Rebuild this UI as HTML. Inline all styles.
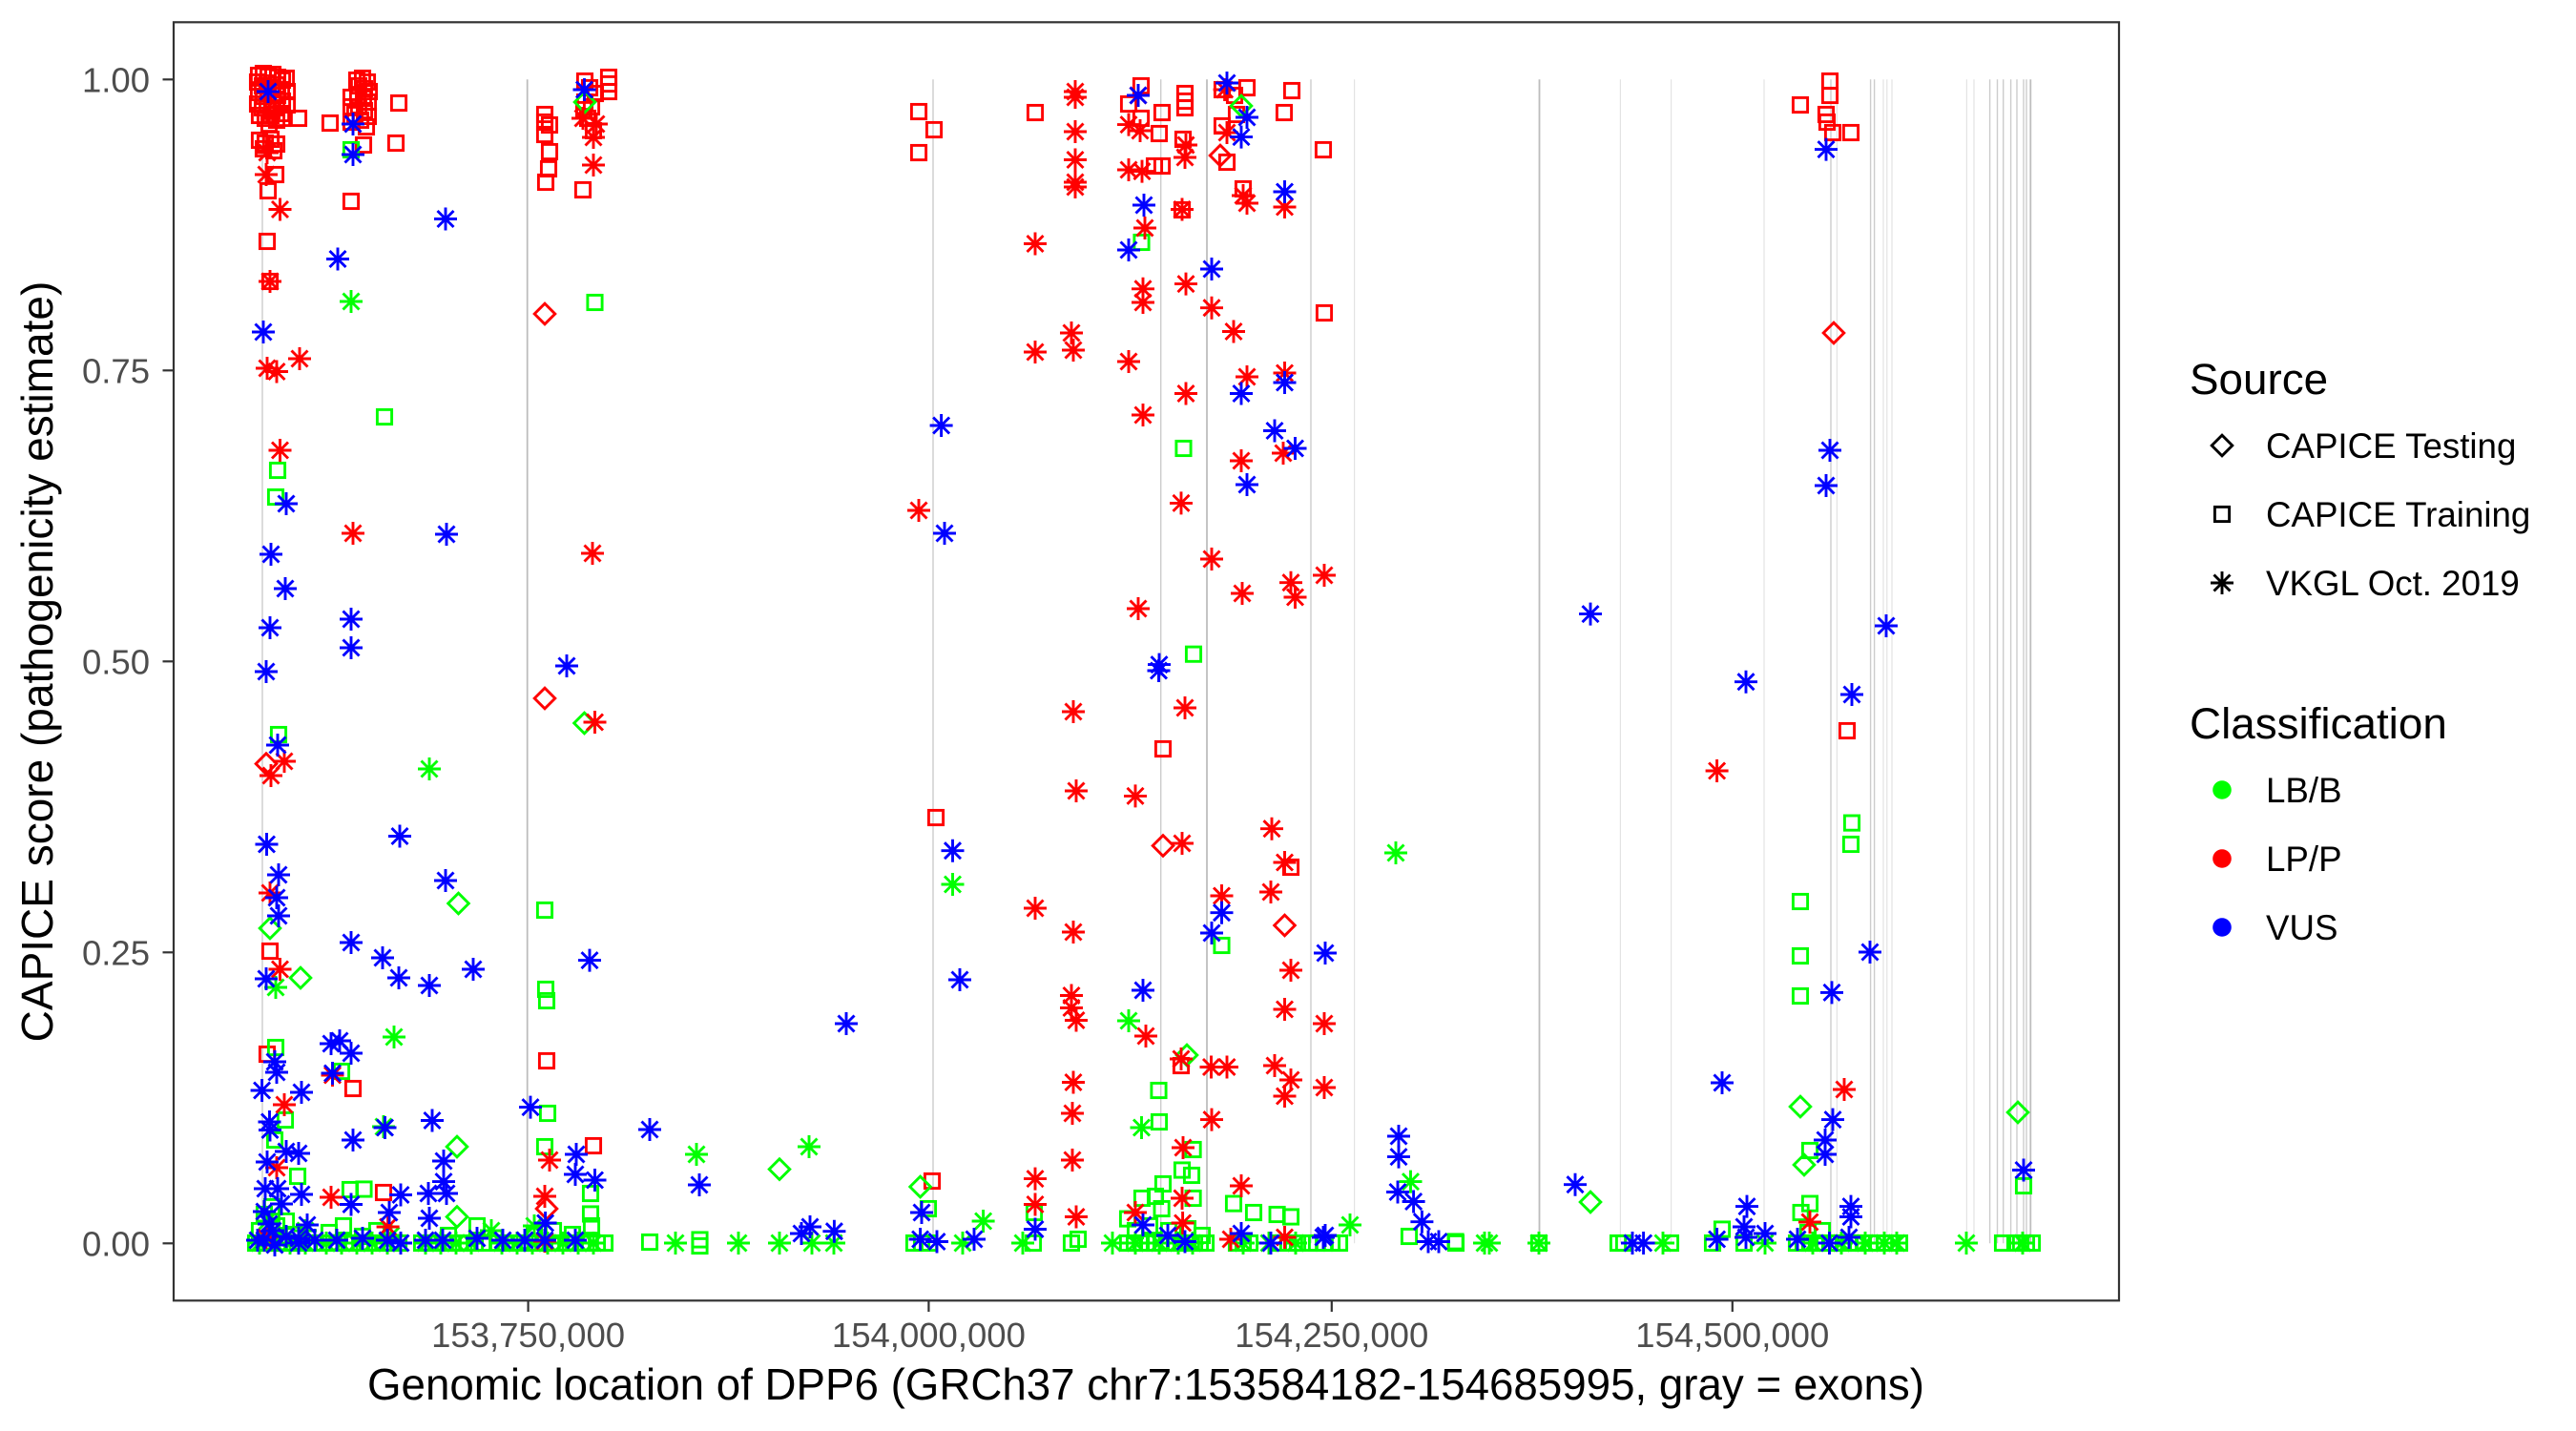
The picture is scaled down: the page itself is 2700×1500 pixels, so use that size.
<!DOCTYPE html>
<html>
<head>
<meta charset="utf-8">
<style>
html,body{margin:0;padding:0;background:#fff;}
body{width:2700px;height:1500px;overflow:hidden;}
svg{display:block;}
text{font-family:"Liberation Sans",Arial,sans-serif;}
</style>
</head>
<body>
<svg width="2700" height="1500" viewBox="0 0 2700 1500" xmlns="http://www.w3.org/2000/svg">
<defs>
<path id="a" d="M-12 0H12M0-12V12M-8.5-8.5L8.5 8.5M-8.5 8.5L8.5-8.5"/>
<rect id="s" x="-7.6" y="-7.6" width="15.2" height="15.2"/>
<path id="d" d="M0-10.8L10.8 0L0 10.8L-10.8 0Z"/>
</defs>
<rect x="0" y="0" width="2700" height="1500" fill="#fff"/>

<!-- exon lines -->
<g stroke="#bdbdbd" stroke-width="1.8">
<line x1="552.7" y1="83.3" x2="552.7" y2="1303.3"/>
<line x1="1265" y1="83.3" x2="1265" y2="1303.3"/>
<line x1="1613.5" y1="83.3" x2="1613.5" y2="1303.3"/>
<line x1="2128.3" y1="83.3" x2="2128.3" y2="1303.3"/>
</g>
<g stroke="#cccccc" stroke-width="1.4">
<line x1="275" y1="83.3" x2="275" y2="1303.3"/>
<line x1="978" y1="83.3" x2="978" y2="1303.3"/>
<line x1="1216.7" y1="83.3" x2="1216.7" y2="1303.3"/>
<line x1="1374" y1="83.3" x2="1374" y2="1303.3"/>
<line x1="1919" y1="83.3" x2="1919" y2="1303.3"/>
<line x1="1960.6" y1="83.3" x2="1960.6" y2="1303.3"/>
<line x1="1964.6" y1="83.3" x2="1964.6" y2="1303.3"/>
<line x1="2085.6" y1="83.3" x2="2085.6" y2="1303.3"/>
<line x1="2093.5" y1="83.3" x2="2093.5" y2="1303.3"/>
<line x1="2099.7" y1="83.3" x2="2099.7" y2="1303.3"/>
<line x1="2107.6" y1="83.3" x2="2107.6" y2="1303.3"/>
<line x1="2114" y1="83.3" x2="2114" y2="1303.3"/>
<line x1="2121" y1="83.3" x2="2121" y2="1303.3"/>
<line x1="2124" y1="83.3" x2="2124" y2="1303.3"/>
</g>
<g stroke="#e3e3e3" stroke-width="1.2">
<line x1="1419.6" y1="83.3" x2="1419.6" y2="1303.3"/>
<line x1="1698.4" y1="83.3" x2="1698.4" y2="1303.3"/>
<line x1="1751.6" y1="83.3" x2="1751.6" y2="1303.3"/>
<line x1="1849" y1="83.3" x2="1849" y2="1303.3"/>
<line x1="1925.4" y1="83.3" x2="1925.4" y2="1303.3"/>
<line x1="1974" y1="83.3" x2="1974" y2="1303.3"/>
<line x1="1977.8" y1="83.3" x2="1977.8" y2="1303.3"/>
<line x1="1983" y1="83.3" x2="1983" y2="1303.3"/>
<line x1="2061.4" y1="83.3" x2="2061.4" y2="1303.3"/>
<line x1="2069" y1="83.3" x2="2069" y2="1303.3"/>
</g>

<!-- RED squares -->
<g fill="none" stroke="#ff0000" stroke-width="2.9">
<use href="#s" x="271" y="79"/><use href="#s" x="276" y="77"/><use href="#s" x="281" y="80"/><use href="#s" x="286" y="78"/><use href="#s" x="291" y="81"/><use href="#s" x="296" y="84"/><use href="#s" x="300" y="82"/>
<use href="#s" x="270" y="86"/><use href="#s" x="275" y="90"/><use href="#s" x="280" y="87"/><use href="#s" x="285" y="92"/><use href="#s" x="290" y="89"/><use href="#s" x="295" y="94"/><use href="#s" x="301" y="96"/>
<use href="#s" x="271" y="97"/><use href="#s" x="276" y="101"/><use href="#s" x="281" y="98"/><use href="#s" x="286" y="104"/><use href="#s" x="291" y="100"/><use href="#s" x="296" y="106"/><use href="#s" x="301" y="110"/>
<use href="#s" x="270" y="109"/><use href="#s" x="275" y="113"/><use href="#s" x="280" y="110"/><use href="#s" x="285" y="116"/><use href="#s" x="290" y="113"/><use href="#s" x="295" y="119"/>
<use href="#s" x="272" y="121"/><use href="#s" x="278" y="124"/><use href="#s" x="284" y="121"/><use href="#s" x="290" y="126"/><use href="#s" x="296" y="124"/><use href="#s" x="282" y="130"/>
<use href="#s" x="272" y="147"/><use href="#s" x="278" y="150"/><use href="#s" x="284" y="146"/><use href="#s" x="290" y="151"/><use href="#s" x="276" y="156"/><use href="#s" x="287" y="158"/>
<use href="#s" x="313" y="124"/><use href="#s" x="346" y="129"/><use href="#s" x="289" y="183"/><use href="#s" x="281" y="200"/><use href="#s" x="280" y="253"/><use href="#s" x="283" y="295"/>
<use href="#s" x="374" y="84"/><use href="#s" x="380" y="82"/><use href="#s" x="385" y="86"/><use href="#s" x="376" y="90"/><use href="#s" x="382" y="93"/><use href="#s" x="387" y="96"/>
<use href="#s" x="375" y="100"/><use href="#s" x="381" y="103"/><use href="#s" x="386" y="107"/><use href="#s" x="368" y="102"/><use href="#s" x="368" y="112"/><use href="#s" x="376" y="112"/>
<use href="#s" x="382" y="116"/><use href="#s" x="372" y="120"/><use href="#s" x="386" y="122"/><use href="#s" x="378" y="126"/><use href="#s" x="384" y="133"/><use href="#s" x="368" y="128"/>
<use href="#s" x="418" y="108"/><use href="#s" x="415" y="150"/><use href="#s" x="381" y="152"/><use href="#s" x="368" y="211"/>
<use href="#s" x="571" y="120"/><use href="#s" x="571" y="128"/><use href="#s" x="576" y="131"/><use href="#s" x="571" y="141"/><use href="#s" x="576" y="159"/><use href="#s" x="575" y="177"/><use href="#s" x="572" y="191"/><use href="#s" x="611" y="199"/>
<use href="#s" x="613" y="85"/><use href="#s" x="638" y="81"/><use href="#s" x="638" y="88"/><use href="#s" x="638" y="96"/><use href="#s" x="613" y="107"/><use href="#s" x="616" y="124"/><use href="#s" x="622" y="137"/><use href="#s" x="618" y="92"/><use href="#s" x="624" y="98"/><use href="#s" x="612" y="115"/><use href="#s" x="620" y="112"/>
<use href="#s" x="283" y="997"/><use href="#s" x="280" y="1105"/><use href="#s" x="370" y="1141"/><use href="#s" x="573" y="1112"/><use href="#s" x="622" y="1201"/><use href="#s" x="402" y="1250"/>
<use href="#s" x="963" y="117"/><use href="#s" x="979" y="136"/><use href="#s" x="963" y="160"/><use href="#s" x="1085" y="118"/>
<use href="#s" x="1196" y="90"/><use href="#s" x="1183" y="109"/><use href="#s" x="1196" y="124"/><use href="#s" x="1218" y="118"/><use href="#s" x="1215" y="140"/><use href="#s" x="1218" y="174"/><use href="#s" x="1210" y="174"/>
<use href="#s" x="1242" y="98"/><use href="#s" x="1242" y="106"/><use href="#s" x="1242" y="113"/><use href="#s" x="1240" y="146"/>
<use href="#s" x="1307" y="92"/><use href="#s" x="1281" y="94"/><use href="#s" x="1281" y="132"/><use href="#s" x="1286" y="170"/><use href="#s" x="1294" y="100"/><use href="#s" x="1296" y="120"/>
<use href="#s" x="1354" y="95"/><use href="#s" x="1346" y="118"/><use href="#s" x="1387" y="157"/><use href="#s" x="1303" y="198"/><use href="#s" x="1239" y="220"/><use href="#s" x="1388" y="328"/>
<use href="#s" x="1219" y="785"/><use href="#s" x="981" y="857"/><use href="#s" x="1353" y="909"/><use href="#s" x="1238" y="1117"/><use href="#s" x="977" y="1238"/>
<use href="#s" x="1918" y="85"/><use href="#s" x="1918" y="100"/><use href="#s" x="1887" y="110"/><use href="#s" x="1914" y="120"/><use href="#s" x="1915" y="128"/><use href="#s" x="1921" y="139"/><use href="#s" x="1940" y="139"/>
<use href="#s" x="1936" y="766"/>
</g>

<!-- GREEN squares -->
<g fill="none" stroke="#00ff00" stroke-width="2.9">
<use href="#s" x="403" y="437"/><use href="#s" x="291" y="493"/><use href="#s" x="289" y="521"/><use href="#s" x="368" y="157"/><use href="#s" x="623.5" y="317"/>
<use href="#s" x="292" y="770"/><use href="#s" x="571" y="954"/><use href="#s" x="572" y="1037"/><use href="#s" x="573" y="1049"/>
<use href="#s" x="289" y="1098"/><use href="#s" x="299" y="1174"/><use href="#s" x="288" y="1195"/><use href="#s" x="312" y="1233"/><use href="#s" x="277" y="1273"/>
<use href="#s" x="358" y="1123"/><use href="#s" x="367" y="1247"/><use href="#s" x="381.5" y="1246.5"/><use href="#s" x="574" y="1167"/><use href="#s" x="571" y="1202"/><use href="#s" x="619" y="1251"/><use href="#s" x="619" y="1272.5"/>
<use href="#s" x="681" y="1302"/><use href="#s" x="733.5" y="1299.5"/><use href="#s" x="733.5" y="1306"/>
<use href="#s" x="1196.5" y="254"/><use href="#s" x="1240.5" y="470"/><use href="#s" x="1251" y="685.7"/><use href="#s" x="1280.5" y="991"/>
<use href="#s" x="1214.5" y="1143"/><use href="#s" x="1215" y="1176"/><use href="#s" x="1250.6" y="1205"/><use href="#s" x="973" y="1267"/><use href="#s" x="1084" y="1271"/>
<use href="#s" x="1239" y="1226.5"/><use href="#s" x="1249" y="1232"/><use href="#s" x="1219" y="1241"/><use href="#s" x="1250.6" y="1256"/><use href="#s" x="1197" y="1256"/><use href="#s" x="1211" y="1254"/><use href="#s" x="1217.6" y="1267"/><use href="#s" x="1182" y="1277.6"/>
<use href="#s" x="1293" y="1261.6"/><use href="#s" x="1314" y="1271"/><use href="#s" x="1338.6" y="1273"/><use href="#s" x="1353" y="1275.5"/><use href="#s" x="1477" y="1296"/><use href="#s" x="1525.6" y="1301.5"/>
<use href="#s" x="1941" y="862.6"/><use href="#s" x="1940" y="885"/><use href="#s" x="1887" y="945"/><use href="#s" x="1887" y="1002"/><use href="#s" x="1887" y="1044"/><use href="#s" x="1897" y="1206"/><use href="#s" x="2121" y="1243"/><use href="#s" x="1897" y="1261.6"/><use href="#s" x="1887.6" y="1271"/><use href="#s" x="1805" y="1288.5"/>
<use href="#s" x="268" y="1303"/><use href="#s" x="276" y="1303"/><use href="#s" x="284" y="1303"/><use href="#s" x="292" y="1303"/><use href="#s" x="300" y="1303"/><use href="#s" x="308" y="1303"/><use href="#s" x="316" y="1303"/><use href="#s" x="324" y="1303"/>
<use href="#s" x="338" y="1303"/><use href="#s" x="346" y="1303"/><use href="#s" x="354" y="1303"/><use href="#s" x="362" y="1303"/><use href="#s" x="370" y="1303"/><use href="#s" x="378" y="1303"/><use href="#s" x="386" y="1303"/><use href="#s" x="394" y="1303"/><use href="#s" x="402" y="1303"/><use href="#s" x="410" y="1303"/><use href="#s" x="418" y="1303"/>
<use href="#s" x="442" y="1303"/><use href="#s" x="450" y="1303"/><use href="#s" x="458" y="1303"/><use href="#s" x="466" y="1303"/><use href="#s" x="474" y="1303"/><use href="#s" x="482" y="1303"/><use href="#s" x="490" y="1303"/><use href="#s" x="498" y="1303"/><use href="#s" x="506" y="1303"/>
<use href="#s" x="522" y="1303"/><use href="#s" x="530" y="1303"/><use href="#s" x="538" y="1303"/><use href="#s" x="546" y="1303"/><use href="#s" x="554" y="1303"/><use href="#s" x="562" y="1303"/><use href="#s" x="570" y="1303"/><use href="#s" x="578" y="1303"/><use href="#s" x="586" y="1303"/><use href="#s" x="594" y="1303"/><use href="#s" x="602" y="1303"/><use href="#s" x="610" y="1303"/><use href="#s" x="618" y="1303"/><use href="#s" x="626" y="1303"/><use href="#s" x="634" y="1303"/>
<use href="#s" x="272" y="1290"/><use href="#s" x="290" y="1285"/><use href="#s" x="300" y="1280"/><use href="#s" x="308" y="1294"/><use href="#s" x="285" y="1265"/><use href="#s" x="345" y="1292"/><use href="#s" x="360" y="1285"/><use href="#s" x="380" y="1296"/><use href="#s" x="395" y="1290"/><use href="#s" x="470" y="1295"/><use href="#s" x="500" y="1285"/><use href="#s" x="560" y="1295"/><use href="#s" x="580" y="1290"/><use href="#s" x="600" y="1294"/><use href="#s" x="620" y="1285"/>
<use href="#s" x="958" y="1303"/><use href="#s" x="966" y="1303"/><use href="#s" x="974" y="1303"/><use href="#s" x="1083" y="1303"/><use href="#s" x="1123" y="1303"/><use href="#s" x="1130" y="1299"/>
<use href="#s" x="1182" y="1303"/><use href="#s" x="1189" y="1303"/><use href="#s" x="1196" y="1303"/><use href="#s" x="1203" y="1303"/><use href="#s" x="1210" y="1303"/><use href="#s" x="1217" y="1303"/><use href="#s" x="1224" y="1303"/><use href="#s" x="1231" y="1303"/><use href="#s" x="1238" y="1303"/><use href="#s" x="1245" y="1303"/><use href="#s" x="1252" y="1303"/><use href="#s" x="1258" y="1303"/><use href="#s" x="1264" y="1303"/>
<use href="#s" x="1190" y="1290"/><use href="#s" x="1205" y="1285"/><use href="#s" x="1225" y="1290"/><use href="#s" x="1245" y="1288"/><use href="#s" x="1260" y="1295"/>
<use href="#s" x="1296" y="1303"/><use href="#s" x="1303" y="1303"/><use href="#s" x="1310" y="1303"/><use href="#s" x="1340" y="1303"/><use href="#s" x="1350" y="1303"/><use href="#s" x="1360" y="1303"/><use href="#s" x="1372" y="1303"/><use href="#s" x="1380" y="1303"/><use href="#s" x="1388" y="1303"/><use href="#s" x="1396" y="1303"/><use href="#s" x="1404" y="1303"/><use href="#s" x="1526" y="1303"/>
<use href="#s" x="1613" y="1303"/><use href="#s" x="1696" y="1303"/><use href="#s" x="1702" y="1303"/><use href="#s" x="1751" y="1303"/><use href="#s" x="1795" y="1303"/><use href="#s" x="1828" y="1303"/>
<use href="#s" x="1883" y="1303"/><use href="#s" x="1890" y="1303"/><use href="#s" x="1897" y="1303"/><use href="#s" x="1904" y="1303"/><use href="#s" x="1911" y="1303"/><use href="#s" x="1918" y="1303"/><use href="#s" x="1925" y="1303"/><use href="#s" x="1932" y="1303"/><use href="#s" x="1939" y="1303"/><use href="#s" x="1946" y="1303"/><use href="#s" x="1953" y="1303"/><use href="#s" x="1960" y="1303"/><use href="#s" x="1967" y="1303"/><use href="#s" x="1975" y="1303"/><use href="#s" x="1983" y="1303"/><use href="#s" x="1991" y="1303"/>
<use href="#s" x="1895" y="1292"/><use href="#s" x="1910" y="1290"/>
<use href="#s" x="2099" y="1303"/><use href="#s" x="2112" y="1303"/><use href="#s" x="2118" y="1303"/><use href="#s" x="2124" y="1303"/><use href="#s" x="2130" y="1303"/>
</g>

<!-- diamonds -->
<g fill="none" stroke="#ff0000" stroke-width="2.9">
<use href="#d" x="571" y="329"/><use href="#d" x="571" y="732"/><use href="#d" x="279" y="800.6"/><use href="#d" x="573" y="1267"/><use href="#d" x="1279" y="163"/><use href="#d" x="1219" y="886.5"/><use href="#d" x="1346.5" y="970"/><use href="#d" x="1922" y="349"/>
</g>
<g fill="none" stroke="#00ff00" stroke-width="2.9">
<use href="#d" x="613" y="107"/><use href="#d" x="612.5" y="758"/><use href="#d" x="480.5" y="947"/><use href="#d" x="283" y="973"/><use href="#d" x="315" y="1025"/><use href="#d" x="479" y="1202"/><use href="#d" x="479" y="1275.5"/><use href="#d" x="817" y="1225.6"/>
<use href="#d" x="1301" y="111"/><use href="#d" x="1244" y="1106"/><use href="#d" x="964.6" y="1244"/><use href="#d" x="1887" y="1160"/><use href="#d" x="1891" y="1221"/><use href="#d" x="1667" y="1260"/><use href="#d" x="2115" y="1166"/>
</g>

<!-- GREEN asterisks -->
<g fill="none" stroke="#00ff00" stroke-width="2.9">
<use href="#a" x="368" y="316"/><use href="#a" x="450" y="806"/><use href="#a" x="289" y="1035"/><use href="#a" x="413" y="1087"/><use href="#a" x="402" y="1181"/><use href="#a" x="730" y="1210"/><use href="#a" x="848" y="1202"/>
<use href="#a" x="998.5" y="927"/><use href="#a" x="1463" y="894"/><use href="#a" x="1183" y="1070"/><use href="#a" x="1196.5" y="1182"/><use href="#a" x="1030.6" y="1280"/><use href="#a" x="1415" y="1284"/><use href="#a" x="1478.5" y="1238.6"/>
<use href="#a" x="272" y="1303"/><use href="#a" x="288" y="1303"/><use href="#a" x="304" y="1303"/><use href="#a" x="320" y="1303"/><use href="#a" x="342" y="1303"/><use href="#a" x="358" y="1303"/><use href="#a" x="374" y="1303"/><use href="#a" x="390" y="1303"/><use href="#a" x="406" y="1303"/>
<use href="#a" x="446" y="1303"/><use href="#a" x="462" y="1303"/><use href="#a" x="478" y="1303"/><use href="#a" x="494" y="1303"/><use href="#a" x="526" y="1303"/><use href="#a" x="542" y="1303"/><use href="#a" x="558" y="1303"/><use href="#a" x="574" y="1303"/><use href="#a" x="590" y="1303"/><use href="#a" x="606" y="1303"/><use href="#a" x="622" y="1303"/>
<use href="#a" x="280" y="1280"/><use href="#a" x="320" y="1290"/><use href="#a" x="410" y="1295"/><use href="#a" x="515" y="1290"/><use href="#a" x="560" y="1285"/><use href="#a" x="290" y="1298"/>
<use href="#a" x="708" y="1303"/><use href="#a" x="774" y="1303"/><use href="#a" x="817" y="1303"/><use href="#a" x="851" y="1303"/><use href="#a" x="874" y="1303"/><use href="#a" x="1009" y="1303"/><use href="#a" x="1072" y="1303"/><use href="#a" x="1166" y="1303"/>
<use href="#a" x="1190" y="1303"/><use href="#a" x="1215" y="1303"/><use href="#a" x="1235" y="1303"/><use href="#a" x="1250" y="1303"/><use href="#a" x="1303" y="1303"/><use href="#a" x="1330" y="1303"/><use href="#a" x="1358" y="1303"/>
<use href="#a" x="1556" y="1303"/><use href="#a" x="1561" y="1303"/><use href="#a" x="1613" y="1303"/><use href="#a" x="1743" y="1303"/><use href="#a" x="1850" y="1303"/><use href="#a" x="1900" y="1303"/><use href="#a" x="1930" y="1303"/><use href="#a" x="1955" y="1303"/><use href="#a" x="1975" y="1303"/><use href="#a" x="1988" y="1303"/><use href="#a" x="2061" y="1303"/><use href="#a" x="2120" y="1303"/>
</g>

<!-- RED asterisks -->
<g fill="none" stroke="#ff0000" stroke-width="2.9">
<use href="#a" x="279" y="183"/><use href="#a" x="293.5" y="219.5"/><use href="#a" x="283" y="295"/><use href="#a" x="280" y="386"/><use href="#a" x="290" y="389.5"/><use href="#a" x="314" y="376"/><use href="#a" x="293.5" y="472"/><use href="#a" x="370" y="559"/>
<use href="#a" x="280" y="160"/><use href="#a" x="611" y="124"/><use href="#a" x="625" y="130"/><use href="#a" x="622" y="144"/><use href="#a" x="622" y="173"/><use href="#a" x="621" y="580"/>
<use href="#a" x="298" y="798"/><use href="#a" x="284" y="813"/><use href="#a" x="283" y="936"/><use href="#a" x="293.5" y="1016"/><use href="#a" x="298" y="1158"/><use href="#a" x="290" y="1224"/><use href="#a" x="348.5" y="1127"/><use href="#a" x="347" y="1255"/><use href="#a" x="406.6" y="1286"/><use href="#a" x="576" y="1216"/><use href="#a" x="623.5" y="757"/><use href="#a" x="571" y="1254"/>
<use href="#a" x="279" y="1297"/><use href="#a" x="571" y="1301"/>
<use href="#a" x="1127" y="96"/><use href="#a" x="1127" y="102"/><use href="#a" x="1127" y="138"/><use href="#a" x="1127" y="167.5"/><use href="#a" x="1127" y="191"/><use href="#a" x="1127" y="196"/>
<use href="#a" x="1193" y="100"/><use href="#a" x="1183" y="130.6"/><use href="#a" x="1195" y="137"/><use href="#a" x="1183" y="178"/><use href="#a" x="1197" y="179.6"/><use href="#a" x="1243" y="152"/><use href="#a" x="1242" y="165"/><use href="#a" x="1283.6" y="94"/><use href="#a" x="1286" y="139"/>
<use href="#a" x="1307" y="213"/><use href="#a" x="1303" y="205"/><use href="#a" x="1346.5" y="217"/><use href="#a" x="1239" y="219.5"/><use href="#a" x="1200" y="239"/><use href="#a" x="1085" y="255.5"/>
<use href="#a" x="1243" y="297.6"/><use href="#a" x="1198" y="302.8"/><use href="#a" x="1198" y="317"/><use href="#a" x="1270" y="322.7"/><use href="#a" x="1293" y="347.5"/>
<use href="#a" x="1123" y="349"/><use href="#a" x="1085" y="369"/><use href="#a" x="1125" y="367"/><use href="#a" x="1183" y="379"/><use href="#a" x="1307" y="395"/><use href="#a" x="1346.5" y="391"/><use href="#a" x="1243" y="412.5"/><use href="#a" x="1198" y="435"/>
<use href="#a" x="1345" y="475"/><use href="#a" x="1301" y="483"/><use href="#a" x="963" y="535"/><use href="#a" x="1238" y="527.4"/>
<use href="#a" x="1270" y="586"/><use href="#a" x="1388" y="603"/><use href="#a" x="1353" y="610.7"/><use href="#a" x="1302" y="622"/><use href="#a" x="1357.5" y="626"/><use href="#a" x="1193" y="638"/>
<use href="#a" x="1125" y="746"/><use href="#a" x="1242" y="742"/><use href="#a" x="1128" y="829"/><use href="#a" x="1190" y="834.4"/><use href="#a" x="1333" y="868.7"/><use href="#a" x="1239" y="884"/><use href="#a" x="1346.5" y="904"/>
<use href="#a" x="1085" y="952"/><use href="#a" x="1125" y="977"/><use href="#a" x="1280.5" y="939"/><use href="#a" x="1332" y="935"/>
<use href="#a" x="1123" y="1043.5"/><use href="#a" x="1123" y="1056.5"/><use href="#a" x="1128" y="1069.5"/><use href="#a" x="1201" y="1086"/><use href="#a" x="1353" y="1017"/><use href="#a" x="1346.5" y="1058"/><use href="#a" x="1388" y="1073"/>
<use href="#a" x="1238" y="1110"/><use href="#a" x="1269.5" y="1118.5"/><use href="#a" x="1286" y="1118.5"/><use href="#a" x="1336" y="1117"/><use href="#a" x="1353" y="1132"/><use href="#a" x="1346.5" y="1149"/><use href="#a" x="1388" y="1140"/>
<use href="#a" x="1125" y="1134.5"/><use href="#a" x="1124" y="1167"/><use href="#a" x="1124" y="1216"/><use href="#a" x="1270" y="1173.6"/><use href="#a" x="1240" y="1203"/>
<use href="#a" x="1085" y="1235.6"/><use href="#a" x="1085" y="1262.5"/><use href="#a" x="1128" y="1275.5"/><use href="#a" x="1239" y="1256"/><use href="#a" x="1301" y="1243"/><use href="#a" x="1190" y="1271"/><use href="#a" x="1239.6" y="1282"/><use href="#a" x="1346.5" y="1297"/><use href="#a" x="1290" y="1299"/>
<use href="#a" x="1799.6" y="808"/><use href="#a" x="1933" y="1142"/><use href="#a" x="1897" y="1281"/>
</g>

<!-- BLUE asterisks -->
<g fill="none" stroke="#0000ff" stroke-width="2.9">
<use href="#a" x="281" y="96"/><use href="#a" x="370" y="130"/><use href="#a" x="370" y="162"/><use href="#a" x="354" y="271.5"/><use href="#a" x="467" y="229.5"/><use href="#a" x="276" y="348"/><use href="#a" x="300" y="528"/><use href="#a" x="468" y="560"/>
<use href="#a" x="284" y="581"/><use href="#a" x="299" y="617"/><use href="#a" x="283" y="658"/><use href="#a" x="368" y="649"/><use href="#a" x="368" y="679"/><use href="#a" x="279" y="704"/><use href="#a" x="594" y="698"/><use href="#a" x="612.5" y="94"/>
<use href="#a" x="291" y="781"/><use href="#a" x="279.5" y="885"/><use href="#a" x="292" y="917"/><use href="#a" x="419" y="876.5"/><use href="#a" x="467" y="923"/><use href="#a" x="290" y="941"/><use href="#a" x="292" y="960"/><use href="#a" x="279" y="1026"/>
<use href="#a" x="368" y="988"/><use href="#a" x="401" y="1004"/><use href="#a" x="418" y="1025"/><use href="#a" x="450" y="1033"/><use href="#a" x="496" y="1016"/><use href="#a" x="618" y="1006.6"/>
<use href="#a" x="288" y="1113"/><use href="#a" x="290" y="1124"/><use href="#a" x="274.6" y="1143"/><use href="#a" x="316" y="1145"/><use href="#a" x="282.5" y="1176"/><use href="#a" x="283" y="1184.5"/><use href="#a" x="300" y="1207"/><use href="#a" x="313" y="1209"/><use href="#a" x="280" y="1218"/><use href="#a" x="278" y="1246"/><use href="#a" x="291" y="1246"/><use href="#a" x="316" y="1252"/>
<use href="#a" x="347" y="1094"/><use href="#a" x="356" y="1091"/><use href="#a" x="368" y="1104"/><use href="#a" x="348.5" y="1125"/><use href="#a" x="370" y="1195"/><use href="#a" x="403.5" y="1182"/><use href="#a" x="453" y="1174.5"/><use href="#a" x="556" y="1160.6"/>
<use href="#a" x="604" y="1210"/><use href="#a" x="603" y="1231"/><use href="#a" x="623.5" y="1237"/><use href="#a" x="465" y="1217"/><use href="#a" x="465" y="1238.6"/><use href="#a" x="468" y="1251"/><use href="#a" x="449" y="1251"/><use href="#a" x="450" y="1277"/>
<use href="#a" x="368" y="1262.5"/><use href="#a" x="420" y="1252.5"/><use href="#a" x="408" y="1271"/><use href="#a" x="571.6" y="1282"/><use href="#a" x="681" y="1184"/><use href="#a" x="733" y="1242"/><use href="#a" x="840" y="1293"/><use href="#a" x="849" y="1286"/>
<use href="#a" x="277" y="1270"/><use href="#a" x="286" y="1290"/><use href="#a" x="300" y="1296"/><use href="#a" x="313" y="1298"/><use href="#a" x="322" y="1284"/><use href="#a" x="295" y="1262"/><use href="#a" x="282" y="1283"/><use href="#a" x="288" y="1305"/><use href="#a" x="270" y="1300"/>
<use href="#a" x="277" y="1300"/><use href="#a" x="313" y="1303"/><use href="#a" x="330" y="1300"/><use href="#a" x="353" y="1300"/><use href="#a" x="380" y="1298"/><use href="#a" x="406" y="1300"/><use href="#a" x="420" y="1303"/><use href="#a" x="446" y="1300"/><use href="#a" x="464" y="1300"/><use href="#a" x="500" y="1298"/><use href="#a" x="527" y="1300"/><use href="#a" x="550" y="1300"/><use href="#a" x="571" y="1300"/><use href="#a" x="603" y="1300"/>
<use href="#a" x="1193" y="100"/><use href="#a" x="1286" y="87"/><use href="#a" x="1307" y="123"/><use href="#a" x="1301" y="143.6"/><use href="#a" x="1346.5" y="201"/><use href="#a" x="1199" y="215"/><use href="#a" x="1183" y="262"/><use href="#a" x="1270" y="282"/>
<use href="#a" x="1346.5" y="401"/><use href="#a" x="1301" y="412.5"/><use href="#a" x="986.6" y="446"/><use href="#a" x="1336" y="451.5"/><use href="#a" x="1357.5" y="470"/><use href="#a" x="1307" y="508"/><use href="#a" x="990" y="559"/><use href="#a" x="1215" y="696.6"/>
<use href="#a" x="1214.5" y="703"/><use href="#a" x="998.5" y="891.7"/><use href="#a" x="1280.5" y="956.7"/><use href="#a" x="1270" y="978"/><use href="#a" x="1389" y="999"/><use href="#a" x="1006" y="1027"/><use href="#a" x="887" y="1073"/><use href="#a" x="1198" y="1038"/>
<use href="#a" x="966" y="1271"/><use href="#a" x="1085" y="1288.5"/><use href="#a" x="1198" y="1284"/><use href="#a" x="1224" y="1295"/><use href="#a" x="1242" y="1301.5"/><use href="#a" x="1301" y="1293"/><use href="#a" x="1389" y="1295"/>
<use href="#a" x="1466" y="1191"/><use href="#a" x="1466" y="1212.6"/><use href="#a" x="1465" y="1249.5"/><use href="#a" x="1481.6" y="1259.5"/><use href="#a" x="1490.4" y="1280.7"/><use href="#a" x="1497" y="1301.5"/><use href="#a" x="1508" y="1301.5"/>
<use href="#a" x="874.4" y="1290.7"/><use href="#a" x="964.6" y="1299"/><use href="#a" x="982" y="1301.5"/><use href="#a" x="1021" y="1299"/><use href="#a" x="1387" y="1297"/><use href="#a" x="1332" y="1303"/>
<use href="#a" x="1914" y="156.6"/><use href="#a" x="1918" y="472"/><use href="#a" x="1914" y="509"/><use href="#a" x="1667" y="643.6"/><use href="#a" x="1977" y="656"/>
<use href="#a" x="1830" y="714.7"/><use href="#a" x="1941" y="728"/><use href="#a" x="1960" y="998"/><use href="#a" x="1920" y="1040.4"/><use href="#a" x="1805" y="1135"/><use href="#a" x="1921" y="1173.6"/><use href="#a" x="1913" y="1195"/><use href="#a" x="1913" y="1210"/>
<use href="#a" x="1651" y="1241.7"/><use href="#a" x="2121" y="1226.5"/><use href="#a" x="1831" y="1264.6"/><use href="#a" x="1940" y="1264.6"/><use href="#a" x="1940" y="1275.5"/><use href="#a" x="1828" y="1286"/><use href="#a" x="1850" y="1293"/>
<use href="#a" x="1711" y="1303"/><use href="#a" x="1722.6" y="1303"/><use href="#a" x="1799.6" y="1299"/><use href="#a" x="1830" y="1297"/><use href="#a" x="1884" y="1299"/><use href="#a" x="1917.5" y="1303"/><use href="#a" x="1938" y="1297"/>
</g>

<!-- panel border -->
<rect x="182" y="23.3" width="2039" height="1340" fill="none" stroke="#333333" stroke-width="2.2"/>

<!-- ticks -->
<g stroke="#333333" stroke-width="2.2">
<line x1="170.5" y1="83.3" x2="182" y2="83.3"/>
<line x1="170.5" y1="388.3" x2="182" y2="388.3"/>
<line x1="170.5" y1="693.3" x2="182" y2="693.3"/>
<line x1="170.5" y1="998.3" x2="182" y2="998.3"/>
<line x1="170.5" y1="1303.3" x2="182" y2="1303.3"/>
<line x1="553.6" y1="1363.3" x2="553.6" y2="1375"/>
<line x1="973.4" y1="1363.3" x2="973.4" y2="1375"/>
<line x1="1395.8" y1="1363.3" x2="1395.8" y2="1375"/>
<line x1="1815.8" y1="1363.3" x2="1815.8" y2="1375"/>
</g>

<!-- tick labels -->
<g font-size="36.5" fill="#4d4d4d">
<text x="157" y="96.3" text-anchor="end">1.00</text>
<text x="157" y="401.3" text-anchor="end">0.75</text>
<text x="157" y="706.3" text-anchor="end">0.50</text>
<text x="157" y="1011.3" text-anchor="end">0.25</text>
<text x="157" y="1316.3" text-anchor="end">0.00</text>
<text x="553.6" y="1412" text-anchor="middle">153,750,000</text>
<text x="973.4" y="1412" text-anchor="middle">154,000,000</text>
<text x="1395.8" y="1412" text-anchor="middle">154,250,000</text>
<text x="1815.8" y="1412" text-anchor="middle">154,500,000</text>
</g>

<!-- axis titles -->
<text x="385" y="1467" font-size="46" fill="#000" textLength="1632" lengthAdjust="spacingAndGlyphs">Genomic location of DPP6 (GRCh37 chr7:153584182-154685995, gray = exons)</text>
<text transform="translate(55,693.5) rotate(-90)" x="0" y="0" text-anchor="middle" font-size="46" fill="#000">CAPICE score (pathogenicity estimate)</text>

<!-- legend -->
<text x="2295" y="413" font-size="45.8" fill="#000">Source</text>
<g fill="none" stroke="#000" stroke-width="2.9">
<use href="#d" x="2329" y="467"/>
<use href="#s" x="2329" y="539"/>
<use href="#a" x="2329" y="611"/>
</g>
<g font-size="36.7" fill="#000">
<text x="2375" y="480">CAPICE Testing</text>
<text x="2375" y="552">CAPICE Training</text>
<text x="2375" y="624">VKGL Oct. 2019</text>
</g>
<text x="2295" y="774" font-size="45.8" fill="#000">Classification</text>
<circle cx="2329" cy="828" r="9.8" fill="#00ff00"/>
<circle cx="2329" cy="900" r="9.8" fill="#ff0000"/>
<circle cx="2329" cy="972" r="9.8" fill="#0000ff"/>
<g font-size="36.7" fill="#000">
<text x="2375" y="841">LB/B</text>
<text x="2375" y="913">LP/P</text>
<text x="2375" y="985">VUS</text>
</g>
</svg>
</body>
</html>
